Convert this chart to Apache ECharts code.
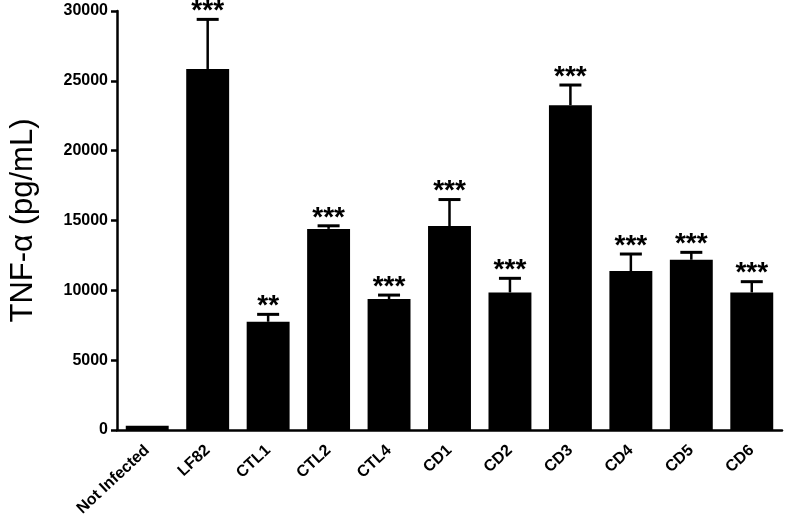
<!DOCTYPE html>
<html>
<head>
<meta charset="utf-8">
<script src="https://cdn.jsdelivr.net/npm/echarts@6/dist/echarts.min.js"></script>
<style>html,body{margin:0;padding:0;background:#fff}#c{width:787px;height:530px}</style>
</head>
<body>
<div id="c"></div>
<script>
const categories = ['Not Infected','LF82','CTL1','CTL2','CTL4','CD1','CD2','CD3','CD4','CD5','CD6'];
const means = [300, 25850, 7750, 14400, 9380, 14600, 9850, 23250, 11380, 12190, 9850];
const errorTops = [null, 29400, 8280, 14620, 9660, 16500, 10860, 24700, 12600, 12720, 10620];
const stars = ['', '***', '**', '***', '***', '***', '***', '***', '***', '***', '***'];
const yTicks = [0, 5000, 10000, 15000, 20000, 25000, 30000];

const FONT = 'Arial, "Liberation Sans", sans-serif';
const chart = echarts.init(document.getElementById('c'), null, {renderer: 'canvas'});

const errData = categories.map((c, i) => [i, means[i], errorTops[i], stars[i]]);

chart.setOption({
  animation: false,
  backgroundColor: '#fff',
  grid: {left: 115, right: 5, top: 11, bottom: 100, containLabel: false},
  xAxis: {
    type: 'category',
    data: categories,
    axisLine: {lineStyle: {color: '#000', width: 2.5}},
    axisTick: {alignWithLabel: true, length: 6, lineStyle: {color: '#000', width: 2.5}},
    axisLabel: {rotate: 43, margin: 18, color: '#000', fontWeight: 'bold', fontSize: 16, fontFamily: FONT, interval: 0}
  },
  yAxis: {
    type: 'value',
    min: 0, max: 30000, interval: 5000,
    name: 'TNF-α (pg/mL)',
    nameLocation: 'middle',
    nameGap: 78,
    nameTextStyle: {fontSize: 31, color: '#000', fontFamily: FONT},
    axisLine: {show: true, lineStyle: {color: '#000', width: 2.5}},
    axisTick: {show: true, length: 6, lineStyle: {color: '#000', width: 2.5}},
    splitLine: {show: false},
    axisLabel: {color: '#000', fontWeight: 'bold', fontSize: 16, fontFamily: FONT, margin: 9,
      formatter: v => yTicks.includes(v) ? String(v) : ''}
  },
  series: [
    {
      type: 'bar',
      data: means,
      barWidth: '71%',
      itemStyle: {color: '#000'},
      z: 2
    },
    {
      type: 'custom',
      data: errData,
      z: 3,
      renderItem: function (params, api) {
        const i = api.value(0);
        const top = api.value(2);
        const mean = api.value(1);
        const children = [];
        const star = stars[i];
        if (errorTops[i] != null) {
          const p0 = api.coord([i, mean]);
          const p1 = api.coord([i, top]);
          const hw = 11;
          children.push({type: 'line', shape: {x1: p0[0], y1: p0[1], x2: p1[0], y2: p1[1]}, style: {stroke: '#000', lineWidth: 2.5}});
          children.push({type: 'line', shape: {x1: p1[0] - hw, y1: p1[1], x2: p1[0] + hw, y2: p1[1]}, style: {stroke: '#000', lineWidth: 3}});
          if (star) {
            children.push({type: 'text', style: {text: star, x: p1[0], y: p1[1] - 8, align: 'center', verticalAlign: 'middle', fill: '#000', font: 'bold 28px ' + FONT}});
          }
        }
        return {type: 'group', children: children};
      }
    }
  ]
});
</script>
</body>
</html>
